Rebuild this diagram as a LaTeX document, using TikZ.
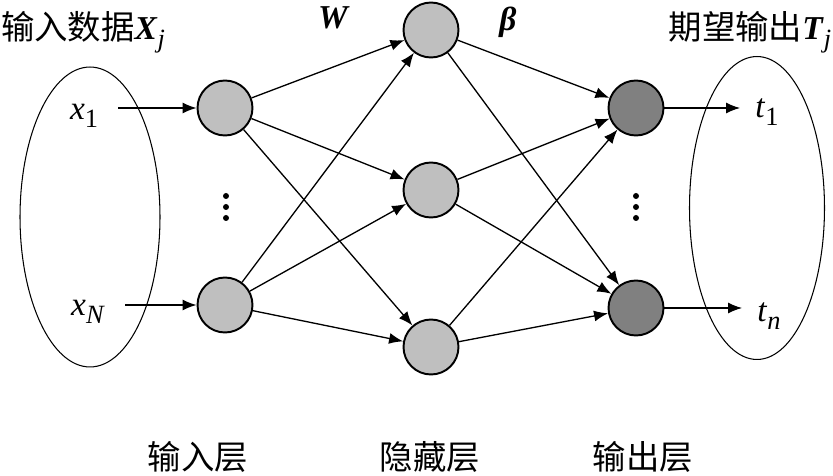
\documentclass[tikz,border=0pt]{standalone}
\usepackage{fontspec}
\setmainfont{LiberationSerif}[Extension=.ttf,UprightFont=*-Regular,BoldFont=*-Bold,ItalicFont=*-Italic,BoldItalicFont=*-BoldItalic]
\newfontfamily\cjk{Noto Sans CJK SC}
\usetikzlibrary{arrows.meta,shapes.geometric,positioning}
\newcommand{\sub}[2]{#1\raisebox{-0.5ex}{\fontsize{15}{15}\selectfont #2}}

\begin{document}
\begin{tikzpicture}[x=0.02cm,y=-0.02cm,
  neuron/.style={circle,draw,line width=1.1pt,minimum size=1.1cm,inner sep=0pt,fill=black!25},
  outn/.style={neuron,fill=black!50},
  arr/.style={-{Latex[length=2.8mm,width=2.2mm]},line width=0.75pt},
  lab/.style={font=\fontsize{19}{22}\selectfont,inner sep=0pt},
  set/.style={ellipse,draw,line width=0.6pt,inner sep=0pt}]
\useasboundingbox (0,0) rectangle (833,476);
\node[set,minimum width=2.8cm,minimum height=6cm] (xset) at (90,217) {};
\node[set,minimum width=2.7cm,minimum height=6.06cm] (tset) at (757,208) {};
\node[neuron] (i1) at (225,108) {};
\node[neuron] (i2) at (225,305) {};
\foreach \n/\y in {1/30,2/190,3/347}
  \node[neuron] (h\n) at (431,\y) {};
\node[outn] (o1) at (636,108) {};
\node[outn] (o2) at (636,308) {};
\foreach \i in {1,2} {
  \foreach \h in {1,2,3}
    \draw[arr] (i\i) -- (h\h);
}
\foreach \h in {1,2,3} {
  \foreach \o in {1,2}
    \draw[arr] (h\h) -- (o\o);
}
\node[lab] (x1) at (84,116) {\sub{\textit{x}}{1}};
\node[lab] (xN) at (88,312) {\sub{\textit{x}}{\textit{N}}};
\node[lab] (t1) at (767,112) {\sub{\textit{t}}{1}};
\node[lab] (tn) at (769,316) {\sub{\textit{t}}{\textit{n}}};
\draw[arr,shorten <=0.4cm] (x1.east |- i1) -- (i1);
\draw[arr,shorten <=0.4cm] (xN.east |- i2) -- (i2);
\draw[arr,shorten >=0.3cm] (o1) -- (t1.west |- o1);
\draw[arr,shorten >=0.3cm] (o2) -- (tn.west |- o2);
\foreach \x in {226,636} {
  \foreach \y in {196,207,218}
    \fill (\x,\y) circle (0.06cm);
}
\node[lab] (xin) at (83,32) {{\cjk 输入数据}\sub{\textbf{\textit{X}}}{\textit{j}}};
\node[lab] (tout) at (750,32) {{\cjk 期望输出}\sub{\textbf{\textit{T}}}{\textit{j}}};
\node[lab] (w) at (334,18) {\textbf{\textit{W}}};
\node[lab] (beta) at (508,22) {\textbf{\textit{β}}};
\foreach \n/\x/\t in {lin/198/输入层,lhid/430/隐藏层,lout/643/输出层}
  \node[lab] (\n) at (\x,457) {\cjk \t};
\end{tikzpicture}
\end{document}
